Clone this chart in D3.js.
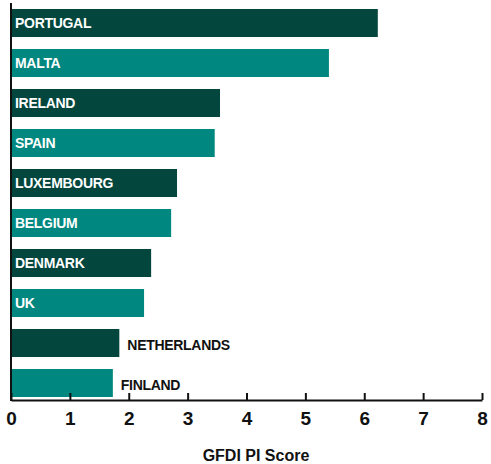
<!DOCTYPE html>
<html>
<head>
<meta charset="utf-8">
<script src="https://cdn.jsdelivr.net/npm/d3@7"></script>
<style>
  body { margin: 0; background: #fff; }
  svg text { font-family: "Liberation Sans", Arial, sans-serif; font-weight: bold; }
</style>
</head>
<body>
<svg id="chart" width="491" height="464"></svg>
<script>
// Data
const countries = ["PORTUGAL", "MALTA", "IRELAND", "SPAIN", "LUXEMBOURG", "BELGIUM", "DENMARK", "UK", "NETHERLANDS", "FINLAND"];
const scores = [6.23, 5.40, 3.55, 3.46, 2.82, 2.72, 2.38, 2.26, 1.84, 1.73];
const tickValues = [0, 1, 2, 3, 4, 5, 6, 7, 8];
const axisTitle = "GFDI PI Score";

// Colours alternate dark / teal
const darkGreen = "#02463d";
const teal = "#00877f";

const data = countries.map((c, i) => ({ country: c, score: scores[i], index: i }));

const svg = d3.select("#chart");
const x = d3.scaleLinear().domain([0, 8]).range([11, 482]);
const y = d3.scaleBand()
  .domain(countries)
  .range([3, 403])
  .paddingInner(0.3)
  .paddingOuter(0.15);

// Bars
svg.selectAll("rect.bar")
  .data(data)
  .enter()
  .append("rect")
  .attr("class", "bar")
  .attr("x", x(0) + 1)
  .attr("y", (d) => y(d.country))
  .attr("width", (d) => x(d.score) - x(0) - 1)
  .attr("height", y.bandwidth())
  .attr("fill", (d) => (d.index % 2 === 0 ? darkGreen : teal));

// Labels: inside bar unless bar too short
svg.selectAll("text.bar-label")
  .data(data)
  .enter()
  .append("text")
  .attr("class", "bar-label")
  .attr("x", (d) => (d.score < 2 ? x(d.score) + 8 : x(0) + 4))
  .attr("y", (d) => y(d.country) + y.bandwidth() / 2)
  .attr("dy", (d) => (d.score < 2 ? "0.47em" : "0.36em"))
  .attr("font-size", 14)
  .attr("letter-spacing", -0.3)
  .attr("fill", (d) => (d.score < 2 ? "#111" : "#fff"))
  .text((d) => d.country);

// X axis
const axis = d3.axisBottom(x)
  .tickValues(tickValues)
  .tickSizeInner(-7)
  .tickSizeOuter(0)
  .tickPadding(12)
  .tickFormat(d3.format("d"));

const gx = svg.append("g")
  .attr("transform", "translate(0,400)")
  .call(axis);
gx.select(".domain").attr("stroke", "#111").attr("stroke-width", 2);
gx.selectAll(".tick line").attr("stroke", "#111").attr("stroke-width", 2);
gx.selectAll(".tick text")
  .attr("font-size", 19)
  .attr("font-family", "Liberation Sans, Arial, sans-serif")
  .attr("font-weight", "bold")
  .attr("fill", "#111");

// Y axis line
svg.append("line")
  .attr("x1", x(0)).attr("x2", x(0))
  .attr("y1", 3).attr("y2", 401)
  .attr("stroke", "#111")
  .attr("stroke-width", 2);

// Axis title
svg.append("text")
  .attr("x", 256)
  .attr("y", 461)
  .attr("text-anchor", "middle")
  .attr("font-size", 16)
  .attr("fill", "#111")
  .text(axisTitle);
</script>
</body>
</html>
